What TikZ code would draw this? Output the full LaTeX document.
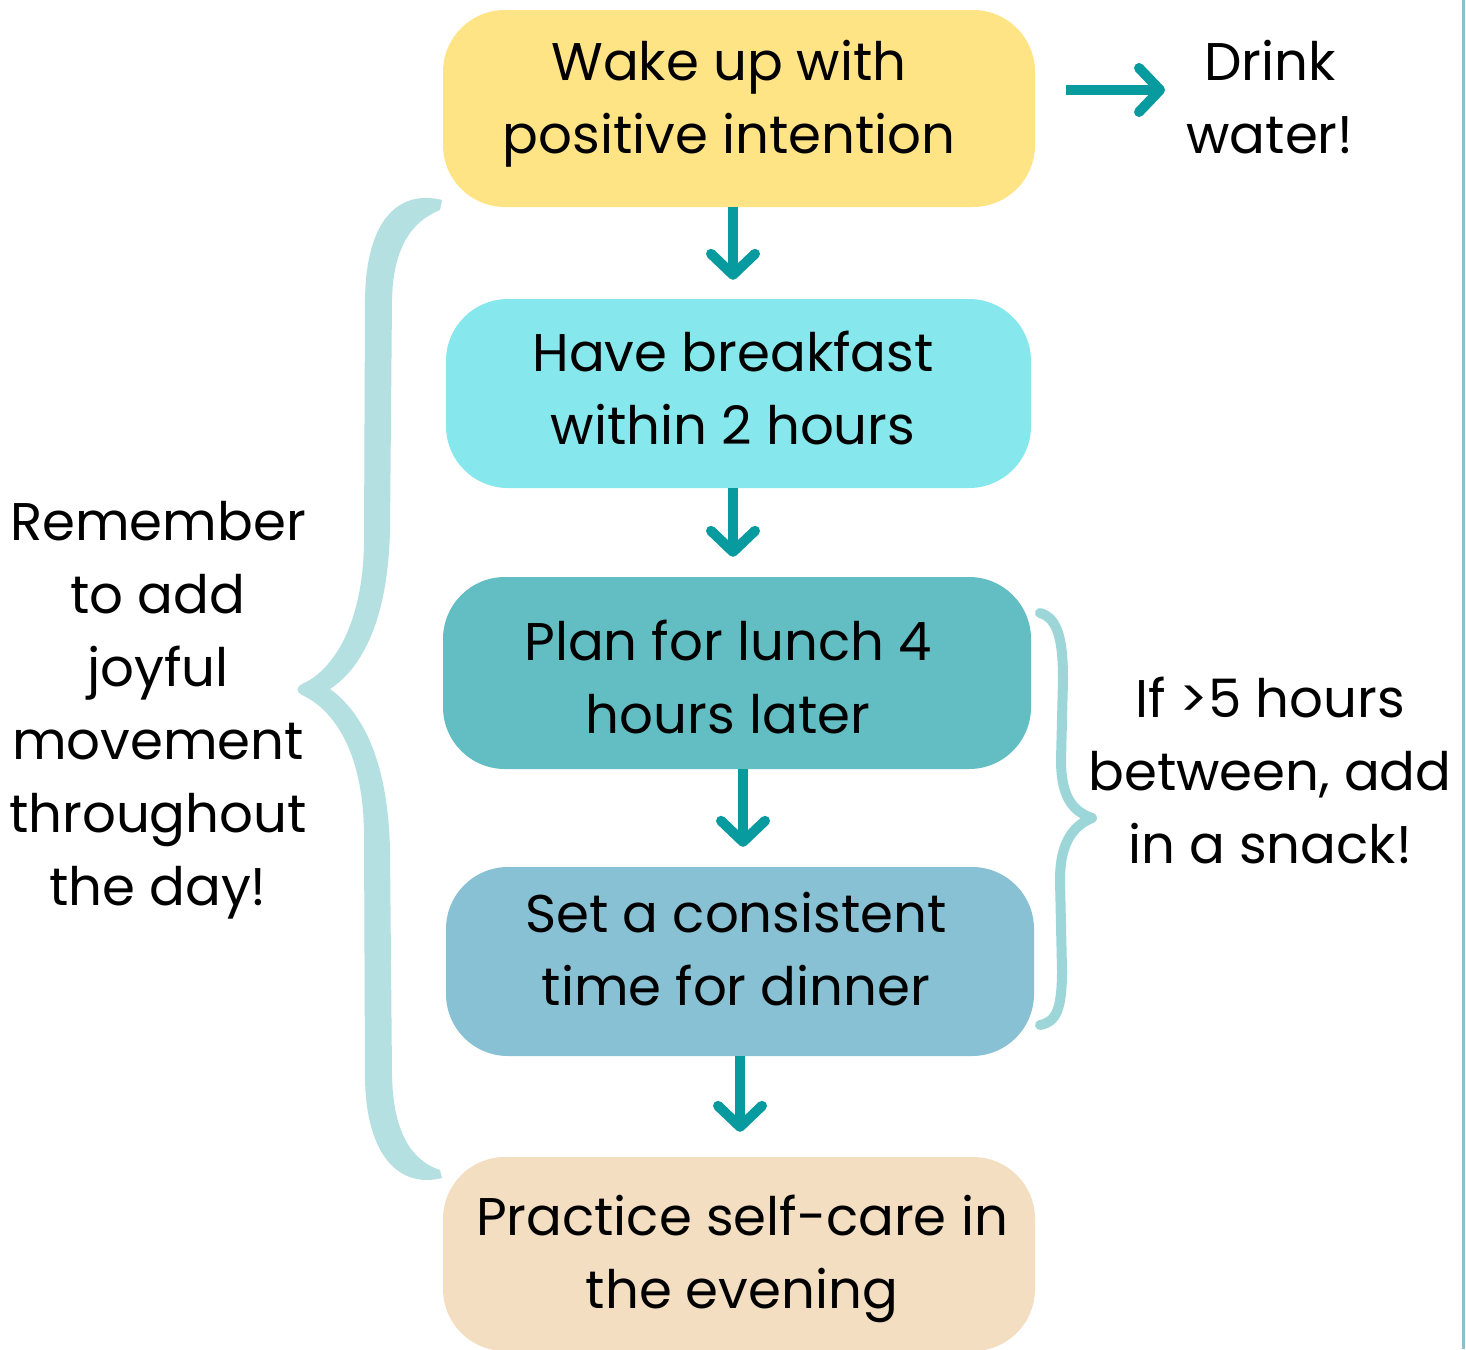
\documentclass[tikz,border=0pt]{standalone}
\usepackage{fontspec}
\setmainfont{Poppins}
\usetikzlibrary{arrows.meta}
\definecolor{wakeyellow}{HTML}{FFE485}
\definecolor{breakcyan}{HTML}{86E8EC}
\definecolor{lunchteal}{HTML}{62BEC3}
\definecolor{dinnerblue}{HTML}{88C1D4}
\definecolor{eveningpeach}{HTML}{F3DEC1}
\definecolor{arrowteal}{HTML}{079A9F}
\definecolor{bigbrace}{HTML}{B5E0E1}
\definecolor{smallbrace}{HTML}{9DD6D8}
\definecolor{edgeblue}{HTML}{8ABFD0}
\begin{document}
\begin{tikzpicture}[x=1pt,y=-1pt,
  txt/.style={align=center,text=black,inner sep=0pt,
    font=\fontsize{53}{73}\selectfont},
  stepbox/.style={rounded corners=62pt,minimum width=#1,inner sep=0pt},
  arr/.style={draw=arrowteal,line width=10pt,
    -{Straight Barb[length=21pt,width=44pt,line width=10pt,round]}}]
\useasboundingbox (0,0) rectangle (1466,1349);
\fill[white] (0,0) rectangle (1466,1349);
% right edge rule
\draw[edgeblue,line width=3pt] (1463,0) -- (1463,1349);

% the five steps of the day
\node[stepbox=592pt,fill=wakeyellow,minimum height=197pt] (b1) at (739,108.5) {};
\node[stepbox=585pt,fill=breakcyan,minimum height=189pt] (b2) at (738.5,393.5) {};
\node[stepbox=588pt,fill=lunchteal,minimum height=192pt] (b3) at (737,673) {};
\node[stepbox=588pt,fill=dinnerblue,minimum height=189pt] (b4) at (740,961.5) {};
\node[stepbox=592pt,fill=eveningpeach,minimum height=194pt] (b5) at (739,1254) {};

% step captions
\node[txt] (t1) at (729,103.5) {Wake up with\\positive intention};
\node[txt] (t2) at (733,387.5) {Have breakfast\\within 2 hours};
\node[txt] (t3) at (728,676.5) {Plan for lunch 4\\hours later};
\node[txt] (t4) at (736,949.5) {Set a consistent\\time for dinner};
\node[txt] (t5) at (742,1258.5) {Practice self-care in\\the evening};

% side notes
\node[txt] (drink) at (1270,97.5) {Drink\\water!};
\node[txt] (snack) at (1270,770) {If >5 hours\\between, add\\in a snack!};
\node[txt] (move) at (158,710) {Remember\\to add\\joyful\\movement\\throughout\\the day!};

% connectors between steps
\coordinate (c1) at (733,0);
\coordinate (c3) at (743,0);
\coordinate (c4) at (740,0);
\draw[arr,shorten >=19pt] (b1.south -| c1) -- (b2.north -| c1);
\draw[arr,shorten >=20pt] (b2.south -| c1) -- (b3.north -| c1);
\draw[arr,shorten >=20pt] (b3.south -| c3) -- (b4.north -| c3);
\draw[arr,shorten >=25pt] (b4.south -| c4) -- (b5.north -| c4);
\coordinate (h1) at (1066,90);
\coordinate (h2) at (1165,90);
\draw[arr] (h1) -- (h2);

% large brace spanning the whole day
\fill[bigbrace]
  (442,200) .. controls (402,190) and (366,215) .. (365,300)
  -- (364,545) .. controls (362,630) and (330,672) .. (302,684)
  .. controls (296,687) and (296,692) .. (302,695)
  .. controls (330,708) and (362,745) .. (364,830)
  -- (365,1080) .. controls (367,1160) and (402,1188) .. (442,1178)
  -- (440,1170)
  .. controls (410,1160) and (393,1130) .. (392,1075)
  -- (390,850) .. controls (388,760) and (362,712) .. (330,689)
  .. controls (362,668) and (388,620) .. (390,530)
  -- (392,300) .. controls (393,250) and (410,222) .. (440,210) -- cycle;

% small brace around lunch and dinner
\draw[smallbrace,line width=10pt,line cap=round,line join=round]
  (1040,613) .. controls (1058,618) and (1063,640) .. (1063,680)
  -- (1061,760) .. controls (1061,800) and (1075,812) .. (1092,818)
  .. controls (1075,825) and (1060,840) .. (1060,880)
  -- (1062,970) .. controls (1062,1010) and (1056,1022) .. (1040,1025);
\end{tikzpicture}
\end{document}
